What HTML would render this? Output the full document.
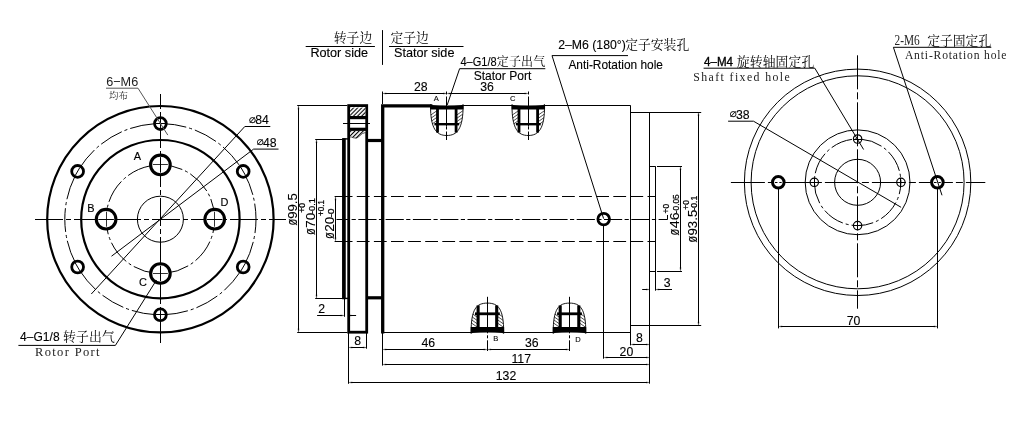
<!DOCTYPE html>
<html lang="zh-CN"><head><meta charset="utf-8"><title>Slip ring outline drawing</title>
<style>
html,body{margin:0;padding:0;background:#fff}
body{width:1026px;height:425px;overflow:hidden}
svg{display:block;will-change:transform}
.t{stroke:#000;stroke-width:1;fill:none}
.cl{stroke:#000;stroke-width:1;fill:none}
.k{stroke:#000;stroke-width:2.2;fill:none}
.ar{fill:#000;stroke:#000;stroke-width:0.3}
.h line{stroke:#222;stroke-width:0.8}
.k2{stroke:#000;stroke-width:3.1}
.k3{stroke:#000;stroke-width:2.8}
.k28{stroke:#000;stroke-width:2.8;fill:none}
text{fill:#000;stroke:none;font-family:"Liberation Sans",sans-serif;font-size:12px}
.s12{font-size:13px;stroke:#000;stroke-width:0.12px}
.s125{font-size:13.4px;stroke:#000;stroke-width:0.12px}
.v{font-size:11.5px;stroke:#000;stroke-width:0.1px}
.s12n{font-size:13.2px;fill:#222}
.s12b{font-size:12px;stroke:#000;stroke-width:0.35px}
.s11{font-size:11.6px;stroke:#000;stroke-width:0.15px}
.s7{font-size:8px;stroke:#000;stroke-width:0.1px}
.tol{font-size:8px;stroke:#000;stroke-width:0.25px}
.sym{font-size:12.5px;stroke:#000;stroke-width:0.15px}
.dia{font-family:"DejaVu Sans",sans-serif;font-size:8px;fill:#000;stroke:#000;stroke-width:0.3px}
.c13{font-family:"Liberation Serif","Noto Serif CJK SC",serif;font-size:12.8px;font-weight:400}
.c12{font-family:"Liberation Serif","Noto Serif CJK SC",serif;font-size:12px;font-weight:400}
.c13b{font-family:"Liberation Serif","Noto Serif CJK SC",serif;font-size:12.8px;font-weight:400}
.c9{font-family:"Liberation Serif","Noto Serif CJK SC",serif;font-size:9.5px;font-weight:300}
.m{font-family:"Liberation Serif",serif;font-size:12px;fill:#222}
</style></head>
<body>
<svg width="1026" height="425" viewBox="0 0 1026 425">
<rect width="1026" height="425" fill="#fff"/>
<defs>
<pattern id="hatch" width="2.9" height="2.9" patternUnits="userSpaceOnUse" patternTransform="rotate(-45)"><rect width="2.9" height="2.9" fill="#fff"/><line x1="0" y1="1.45" x2="2.9" y2="1.45" stroke="#000" stroke-width="1.1"/></pattern>
<clipPath id="pc"><path d="M-16.2 3 C-16 9 -15.6 14 -14.6 18.4 H-9.3 V3 Z M16.2 3 C16 9 15.6 14 14.6 18.4 H9.3 V3 Z"/></clipPath>
</defs>
<g id="left-view">
<circle class="k" cx="160.40" cy="219.20" r="113.20"/>
<circle class="k" cx="160.40" cy="219.20" r="79.20"/>
<circle class="cl" cx="160.40" cy="219.20" r="95.60" style="stroke-dasharray:24 3 3 3;stroke-dashoffset:10"/>
<circle class="cl" cx="160.40" cy="219.20" r="54.30" style="stroke-dasharray:24 3 3 3;stroke-dashoffset:10"/>
<circle class="t" cx="160.40" cy="219.20" r="23.00"/>
<line class="cl" x1="35.00" y1="219.50" x2="286.00" y2="219.50" style="stroke-dasharray:28 3 5 3;stroke-dashoffset:0"/>
<line class="cl" x1="160.50" y1="94.00" x2="160.50" y2="344.00" style="stroke-dasharray:28 3 5 3;stroke-dashoffset:13"/>
<circle class="k2" cx="160.40" cy="164.90" r="9.80" fill="#fff"/>
<line class="t" x1="152.90" y1="164.50" x2="167.90" y2="164.50" style="stroke-width:0.8"/>
<line class="t" x1="160.50" y1="166.90" x2="160.50" y2="162.90"/>
<line class="t" x1="160.50" y1="157.10" x2="160.50" y2="172.70"/>
<circle class="k2" cx="106.10" cy="219.20" r="9.80" fill="#fff"/>
<line class="t" x1="106.50" y1="226.70" x2="106.50" y2="211.70" style="stroke-width:0.8"/>
<line class="t" x1="108.10" y1="219.50" x2="104.10" y2="219.50"/>
<line class="t" x1="98.30" y1="219.50" x2="113.90" y2="219.50"/>
<circle class="k2" cx="160.40" cy="273.50" r="9.80" fill="#fff"/>
<line class="t" x1="167.90" y1="273.50" x2="152.90" y2="273.50" style="stroke-width:0.8"/>
<line class="t" x1="160.50" y1="271.50" x2="160.50" y2="275.50"/>
<line class="t" x1="160.50" y1="265.70" x2="160.50" y2="281.30"/>
<circle class="k2" cx="214.70" cy="219.20" r="9.80" fill="#fff"/>
<line class="t" x1="214.50" y1="211.70" x2="214.50" y2="226.70" style="stroke-width:0.8"/>
<line class="t" x1="212.70" y1="219.50" x2="216.70" y2="219.50"/>
<line class="t" x1="206.90" y1="219.50" x2="222.50" y2="219.50"/>
<circle class="k3" cx="160.40" cy="123.60" r="5.90" fill="#fff"/>
<line class="t" x1="155.80" y1="123.50" x2="165.00" y2="123.50"/>
<line class="t" x1="160.50" y1="119.00" x2="160.50" y2="128.20"/>
<circle class="k3" cx="243.19" cy="171.40" r="5.90" fill="#fff"/>
<line class="t" x1="240.89" y1="167.42" x2="245.49" y2="175.38"/>
<circle class="k3" cx="243.19" cy="267.00" r="5.90" fill="#fff"/>
<line class="t" x1="245.49" y1="263.02" x2="240.89" y2="270.98"/>
<circle class="k3" cx="160.40" cy="314.80" r="5.90" fill="#fff"/>
<line class="t" x1="165.00" y1="314.50" x2="155.80" y2="314.50"/>
<line class="t" x1="160.50" y1="310.20" x2="160.50" y2="319.40"/>
<circle class="k3" cx="77.61" cy="267.00" r="5.90" fill="#fff"/>
<line class="t" x1="79.91" y1="270.98" x2="75.31" y2="263.02"/>
<circle class="k3" cx="77.61" cy="171.40" r="5.90" fill="#fff"/>
<line class="t" x1="75.31" y1="175.38" x2="79.91" y2="167.42"/>
<polyline class="t" points="270.30,126.50 244.80,126.50 91.30,294.00"/>
<polyline class="t" points="278.50,149.10 253.60,149.10 111.50,256.20"/>
<polyline class="t" points="106.00,88.20 138.00,88.20 167.80,135.10" style="stroke:#555"/>
<polyline class="t" points="18.40,345.40 115.40,345.40 156.50,280.00"/>
<text class="s12n" x="106.20" y="86.30" style="font-size:13px" textLength="32.00" lengthAdjust="spacingAndGlyphs">6−M6</text>
<text class="c9" x="109.00" y="99.00">均布</text>
<text class="dia" x="248.90" y="122.60">∅</text>
<text class="s12" transform="translate(255.20,124.25) scale(0.945,1)">84</text>
<text class="dia" x="256.70" y="144.90">∅</text>
<text class="s12" transform="translate(263.00,146.55) scale(0.945,1)">48</text>
<text class="s11" transform="translate(133.80,160.25) scale(0.945,1)">A</text>
<text class="s11" transform="translate(87.30,211.75) scale(0.945,1)">B</text>
<text class="s11" transform="translate(139.00,286.25) scale(0.945,1)">C</text>
<text class="s11" transform="translate(220.40,206.05) scale(0.945,1)">D</text>
<text class="s125" x="20.10" y="340.60" style="font-size:13.2px" textLength="39.50" lengthAdjust="spacingAndGlyphs">4–G1/8</text>
<text class="c13" x="62.90" y="340.60" style="font-size:12.8px" textLength="52.00" lengthAdjust="spacing">转子出气</text>
<text class="m" x="35.00" y="355.60" style="font-size:12.5px" textLength="64.60" lengthAdjust="spacing">Rotor Port</text>
</g>
<g id="side-view">
<line class="t" x1="305.70" y1="46.50" x2="374.90" y2="46.50"/>
<line class="t" x1="389.00" y1="46.50" x2="463.50" y2="46.50"/>
<line class="t" x1="382.50" y1="30.10" x2="382.50" y2="64.90"/>
<text class="c13" x="333.80" y="41.60">转子边</text>
<text class="c13" x="390.50" y="41.60">定子边</text>
<text class="s125" transform="translate(310.40,56.95) scale(0.945,1)">Rotor side</text>
<text class="s125" transform="translate(394.00,57.05) scale(0.945,1)">Stator side</text>
<polyline class="t" points="545.30,68.70 459.60,68.70 447.20,105.00"/>
<text class="s12" x="460.40" y="66.00" style="font-size:12.8px" textLength="36.20" lengthAdjust="spacingAndGlyphs">4–G1/8</text>
<text class="c12" x="496.80" y="66.00" style="font-size:12px" textLength="48.40" lengthAdjust="spacing">定子出气</text>
<text class="s12" x="473.70" y="80.30" style="font-size:12.9px" textLength="57.60" lengthAdjust="spacingAndGlyphs">Stator Port</text>
<polyline class="t" points="628.00,55.60 552.00,55.60 603.60,218.60"/>
<text class="s12" transform="translate(558.20,48.75) scale(0.945,1)">2–M6 (180°)</text>
<text class="c13" x="625.20" y="49.00">定子安装孔</text>
<text class="s12" x="568.40" y="69.40" style="font-size:12.9px" textLength="94.60" lengthAdjust="spacingAndGlyphs">Anti-Rotation hole</text>
<path class="ar" d="M383.10 93.50 L386.30 92.95 L386.30 94.05 Z"/>
<path class="ar" d="M446.30 93.50 L443.10 94.05 L443.10 92.95 Z"/>
<line class="t" x1="385.20" y1="93.50" x2="444.20" y2="93.50"/>
<path class="ar" d="M447.30 93.50 L450.50 92.95 L450.50 94.05 Z"/>
<path class="ar" d="M527.80 93.50 L524.60 94.05 L524.60 92.95 Z"/>
<line class="t" x1="449.40" y1="93.50" x2="525.70" y2="93.50"/>
<line class="t" x1="382.50" y1="91.50" x2="382.50" y2="104.00"/>
<text class="s12" transform="translate(414.00,90.85) scale(0.945,1)">28</text>
<text class="s12" transform="translate(480.30,90.85) scale(0.945,1)">36</text>
<text class="s7" transform="translate(433.70,101.45) scale(0.945,1)">A</text>
<text class="s7" transform="translate(510.00,101.45) scale(0.945,1)">C</text>
<line class="t" x1="334.60" y1="196.50" x2="343.00" y2="196.50"/>
<line class="t" x1="339.70" y1="196.50" x2="655.50" y2="196.50" style="stroke-dasharray:12.8 4.3"/>
<line class="t" x1="334.60" y1="241.50" x2="343.00" y2="241.50"/>
<line class="t" x1="339.70" y1="241.50" x2="655.50" y2="241.50" style="stroke-dasharray:12.8 4.3"/>
<line class="t" x1="336.50" y1="219.50" x2="667.60" y2="219.50" style="stroke-dasharray:18.2 2.4 4.2 2.5;stroke-dashoffset:5.5"/>
<rect class="k28" x="348.7" y="105.6" width="18" height="226.6"/>
<rect x="350.1" y="107.6" width="15.2" height="8.6" fill="url(#hatch)"/>
<path d="M350.1 130.8 H365.3 V132.6 Q362 133 359.6 136 Q357 139.4 353.4 137.8 Q351.6 136.8 350.1 137 Z" fill="url(#hatch)"/>
<path class="t" d="M365.3 132.6 Q362 133 359.6 136 Q357 139.4 353.4 137.8 Q351.6 136.8 350.1 137" style="stroke-width:0.6"/>
<line class="k" x1="348.70" y1="117.60" x2="366.70" y2="117.60" style="stroke-width:3.2"/>
<line class="k" x1="348.70" y1="129.30" x2="366.70" y2="129.30" style="stroke-width:3.2"/>
<line class="t" x1="343.00" y1="123.50" x2="370.00" y2="123.50"/>
<line class="k" x1="343.90" y1="138.20" x2="343.90" y2="299.20" style="stroke-width:3.7"/>
<line class="k" x1="342.60" y1="138.90" x2="348.70" y2="138.90" style="stroke-width:1.4"/>
<line class="k" x1="342.60" y1="298.40" x2="348.70" y2="298.40" style="stroke-width:1.4"/>
<line class="k" x1="366.70" y1="140.50" x2="382.70" y2="140.50" style="stroke-width:3.2"/>
<line class="k" x1="366.70" y1="297.80" x2="382.70" y2="297.80" style="stroke-width:3.2"/>
<polyline class="k" points="382.70,333.60 382.70,105.90 432.40,105.90" style="stroke-width:3.3"/>
<line class="t" x1="432.00" y1="105.50" x2="630.70" y2="105.50"/>
<line class="t" x1="382.70" y1="332.50" x2="630.70" y2="332.50"/>
<line class="t" x1="630.50" y1="105.60" x2="630.50" y2="345.40"/>
<line class="t" x1="630.70" y1="112.50" x2="701.20" y2="112.50"/>
<line class="t" x1="630.70" y1="325.50" x2="701.20" y2="325.50"/>
<line class="t" x1="649.50" y1="112.10" x2="649.50" y2="383.70"/>
<line class="t" x1="649.70" y1="166.50" x2="655.50" y2="166.50"/>
<line class="t" x1="657.00" y1="166.50" x2="682.00" y2="166.50"/>
<line class="t" x1="649.70" y1="271.50" x2="655.50" y2="271.50"/>
<line class="t" x1="657.00" y1="271.50" x2="682.00" y2="271.50"/>
<line class="t" x1="655.50" y1="166.30" x2="655.50" y2="290.70"/>
<circle class="k3" cx="603.70" cy="219.10" r="5.80" fill="none"/>
<line class="t" x1="603.50" y1="225.00" x2="603.50" y2="358.70"/>
<g transform="translate(446.8,105.6) scale(1,1)">
<path d="M-16.3 0 C-16.3 23 -10.5 29.9 0 29.9 C10.5 29.9 16.3 23 16.3 0 Z" fill="#fff" stroke="none"/>
<g clip-path="url(#pc)" class="h">
<line x1="-17" y1="10.10" x2="-9" y2="4.50"/>
<line x1="-17" y1="13.40" x2="-9" y2="7.80"/>
<line x1="-17" y1="16.70" x2="-9" y2="11.10"/>
<line x1="-17" y1="20.00" x2="-9" y2="14.40"/>
<line x1="-17" y1="23.30" x2="-9" y2="17.70"/>
<line x1="-17" y1="26.60" x2="-9" y2="21.00"/>
<line x1="-17" y1="29.90" x2="-9" y2="24.30"/>
<line x1="9" y1="10.10" x2="17" y2="4.50"/>
<line x1="9" y1="13.40" x2="17" y2="7.80"/>
<line x1="9" y1="16.70" x2="17" y2="11.10"/>
<line x1="9" y1="20.00" x2="17" y2="14.40"/>
<line x1="9" y1="23.30" x2="17" y2="17.70"/>
<line x1="9" y1="26.60" x2="17" y2="21.00"/>
<line x1="9" y1="29.90" x2="17" y2="24.30"/>
</g>
<path class="t" d="M-16.3 0 C-16.3 23 -10.5 29.9 0 29.9 C10.5 29.9 16.3 23 16.3 0" style="stroke-width:0.9"/>
<path d="M-16.7 -1.6 L-15 -0.6 Q0 1.6 15 -0.6 L16.7 -1.6 V3.9 H-16.7 Z" fill="#000"/>
<line class="k" x1="-9.3" y1="3" x2="-9.3" y2="27" style="stroke-width:2.8"/>
<line class="k" x1="9.3" y1="3" x2="9.3" y2="27" style="stroke-width:2.8"/>
<line class="k" x1="-12.4" y1="18.6" x2="12.4" y2="18.6" style="stroke-width:2.4"/>
</g>
<g transform="translate(528.3,105.6) scale(1,1)">
<path d="M-16.3 0 C-16.3 23 -10.5 29.9 0 29.9 C10.5 29.9 16.3 23 16.3 0 Z" fill="#fff" stroke="none"/>
<g clip-path="url(#pc)" class="h">
<line x1="-17" y1="10.10" x2="-9" y2="4.50"/>
<line x1="-17" y1="13.40" x2="-9" y2="7.80"/>
<line x1="-17" y1="16.70" x2="-9" y2="11.10"/>
<line x1="-17" y1="20.00" x2="-9" y2="14.40"/>
<line x1="-17" y1="23.30" x2="-9" y2="17.70"/>
<line x1="-17" y1="26.60" x2="-9" y2="21.00"/>
<line x1="-17" y1="29.90" x2="-9" y2="24.30"/>
<line x1="9" y1="10.10" x2="17" y2="4.50"/>
<line x1="9" y1="13.40" x2="17" y2="7.80"/>
<line x1="9" y1="16.70" x2="17" y2="11.10"/>
<line x1="9" y1="20.00" x2="17" y2="14.40"/>
<line x1="9" y1="23.30" x2="17" y2="17.70"/>
<line x1="9" y1="26.60" x2="17" y2="21.00"/>
<line x1="9" y1="29.90" x2="17" y2="24.30"/>
</g>
<path class="t" d="M-16.3 0 C-16.3 23 -10.5 29.9 0 29.9 C10.5 29.9 16.3 23 16.3 0" style="stroke-width:0.9"/>
<path d="M-16.7 -1.6 L-15 -0.6 Q0 1.6 15 -0.6 L16.7 -1.6 V3.9 H-16.7 Z" fill="#000"/>
<line class="k" x1="-9.3" y1="3" x2="-9.3" y2="27" style="stroke-width:2.8"/>
<line class="k" x1="9.3" y1="3" x2="9.3" y2="27" style="stroke-width:2.8"/>
<line class="k" x1="-12.4" y1="18.6" x2="12.4" y2="18.6" style="stroke-width:2.4"/>
</g>
<g transform="translate(487.4,332.4) scale(1,-1)">
<path d="M-16.3 0 C-16.3 23.5 -11 29.3 0 29.3 C11 29.3 16.3 23.5 16.3 0 Z" fill="#fff" stroke="none"/>
<g clip-path="url(#pc)" class="h">
<line x1="-17" y1="10.10" x2="-9" y2="4.50"/>
<line x1="-17" y1="13.40" x2="-9" y2="7.80"/>
<line x1="-17" y1="16.70" x2="-9" y2="11.10"/>
<line x1="-17" y1="20.00" x2="-9" y2="14.40"/>
<line x1="-17" y1="23.30" x2="-9" y2="17.70"/>
<line x1="-17" y1="26.60" x2="-9" y2="21.00"/>
<line x1="-17" y1="29.90" x2="-9" y2="24.30"/>
<line x1="9" y1="10.10" x2="17" y2="4.50"/>
<line x1="9" y1="13.40" x2="17" y2="7.80"/>
<line x1="9" y1="16.70" x2="17" y2="11.10"/>
<line x1="9" y1="20.00" x2="17" y2="14.40"/>
<line x1="9" y1="23.30" x2="17" y2="17.70"/>
<line x1="9" y1="26.60" x2="17" y2="21.00"/>
<line x1="9" y1="29.90" x2="17" y2="24.30"/>
</g>
<path class="t" d="M-16.3 0 C-16.3 23.5 -11 29.3 0 29.3 C11 29.3 16.3 23.5 16.3 0" style="stroke-width:0.9"/>
<path d="M-16.7 -1.6 L-15 -0.6 Q0 1.6 15 -0.6 L16.7 -1.6 V5.4 H-16.7 Z" fill="#000"/>
<line class="k" x1="-9.3" y1="3" x2="-9.3" y2="27" style="stroke-width:3.1"/>
<line class="k" x1="9.3" y1="3" x2="9.3" y2="27" style="stroke-width:3.1"/>
<line class="k" x1="-12.4" y1="18.6" x2="12.4" y2="18.6" style="stroke-width:2.8"/>
</g>
<g transform="translate(569.5,332.4) scale(1,-1)">
<path d="M-16.3 0 C-16.3 23.5 -11 29.3 0 29.3 C11 29.3 16.3 23.5 16.3 0 Z" fill="#fff" stroke="none"/>
<g clip-path="url(#pc)" class="h">
<line x1="-17" y1="10.10" x2="-9" y2="4.50"/>
<line x1="-17" y1="13.40" x2="-9" y2="7.80"/>
<line x1="-17" y1="16.70" x2="-9" y2="11.10"/>
<line x1="-17" y1="20.00" x2="-9" y2="14.40"/>
<line x1="-17" y1="23.30" x2="-9" y2="17.70"/>
<line x1="-17" y1="26.60" x2="-9" y2="21.00"/>
<line x1="-17" y1="29.90" x2="-9" y2="24.30"/>
<line x1="9" y1="10.10" x2="17" y2="4.50"/>
<line x1="9" y1="13.40" x2="17" y2="7.80"/>
<line x1="9" y1="16.70" x2="17" y2="11.10"/>
<line x1="9" y1="20.00" x2="17" y2="14.40"/>
<line x1="9" y1="23.30" x2="17" y2="17.70"/>
<line x1="9" y1="26.60" x2="17" y2="21.00"/>
<line x1="9" y1="29.90" x2="17" y2="24.30"/>
</g>
<path class="t" d="M-16.3 0 C-16.3 23.5 -11 29.3 0 29.3 C11 29.3 16.3 23.5 16.3 0" style="stroke-width:0.9"/>
<path d="M-16.7 -1.6 L-15 -0.6 Q0 1.6 15 -0.6 L16.7 -1.6 V5.4 H-16.7 Z" fill="#000"/>
<line class="k" x1="-9.3" y1="3" x2="-9.3" y2="27" style="stroke-width:3.1"/>
<line class="k" x1="9.3" y1="3" x2="9.3" y2="27" style="stroke-width:3.1"/>
<line class="k" x1="-12.4" y1="18.6" x2="12.4" y2="18.6" style="stroke-width:2.8"/>
</g>
<line class="t" x1="446.50" y1="91.50" x2="446.50" y2="140.00" style="stroke-dasharray:3 2 30 0"/>
<line class="t" x1="528.50" y1="91.50" x2="528.50" y2="140.00" style="stroke-dasharray:3 2 30 0"/>
<line class="t" x1="487.50" y1="296.80" x2="487.50" y2="351.00" style="stroke-dasharray:36.5 2 3 2 30"/>
<line class="t" x1="569.50" y1="296.80" x2="569.50" y2="351.00" style="stroke-dasharray:36.5 2 3 2 30"/>
<line class="t" x1="297.20" y1="105.50" x2="347.40" y2="105.50"/>
<line class="t" x1="297.20" y1="332.50" x2="347.40" y2="332.50"/>
<path class="ar" d="M298.50 106.10 L299.05 109.30 L297.95 109.30 Z"/>
<path class="ar" d="M298.50 331.90 L297.95 328.70 L299.05 328.70 Z"/>
<line class="t" x1="298.50" y1="108.20" x2="298.50" y2="329.80"/>
<line class="t" x1="315.20" y1="139.50" x2="342.60" y2="139.50"/>
<line class="t" x1="315.20" y1="298.50" x2="342.60" y2="298.50"/>
<path class="ar" d="M316.50 139.80 L317.05 143.00 L315.95 143.00 Z"/>
<path class="ar" d="M316.50 298.00 L315.95 294.80 L317.05 294.80 Z"/>
<line class="t" x1="316.50" y1="141.90" x2="316.50" y2="295.90"/>
<path class="ar" d="M335.50 197.00 L336.05 200.20 L334.95 200.20 Z"/>
<path class="ar" d="M335.50 240.80 L334.95 237.60 L336.05 237.60 Z"/>
<line class="t" x1="335.50" y1="199.10" x2="335.50" y2="238.70"/>
<text class="sym" transform="translate(296.90,225.40) rotate(-90)" style="font-size:14px" textLength="6.80" lengthAdjust="spacingAndGlyphs">ø</text>
<text class="v" transform="translate(296.90,218.70) rotate(-90)" style="font-size:13.1px" textLength="25.40" lengthAdjust="spacingAndGlyphs">99.5</text>
<text class="sym" transform="translate(315.00,235.10) rotate(-90)" style="font-size:14px" textLength="6.80" lengthAdjust="spacingAndGlyphs">ø</text>
<text class="v" transform="translate(315.00,228.00) rotate(-90)" style="font-size:13.1px" textLength="15.30" lengthAdjust="spacingAndGlyphs">70</text>
<text class="tol" transform="translate(315.00,214.00) rotate(-90)" style="font-size:8.6px" textLength="16.00" lengthAdjust="spacingAndGlyphs">-0.1</text>
<text class="tol" transform="translate(305.30,212.80) rotate(-90)" style="font-size:8.6px" textLength="9.80" lengthAdjust="spacingAndGlyphs">+0</text>
<text class="sym" transform="translate(333.80,239.00) rotate(-90)" style="font-size:14px" textLength="6.80" lengthAdjust="spacingAndGlyphs">ø</text>
<text class="v" transform="translate(333.80,231.80) rotate(-90)" style="font-size:13.1px" textLength="15.20" lengthAdjust="spacingAndGlyphs">20</text>
<text class="tol" transform="translate(333.80,217.60) rotate(-90)" style="font-size:8.6px" textLength="9.20" lengthAdjust="spacingAndGlyphs">-0</text>
<text class="tol" transform="translate(323.50,216.00) rotate(-90)" style="font-size:8.6px" textLength="16.00" lengthAdjust="spacingAndGlyphs">+0.1</text>
<path class="ar" d="M343.80 315.50 L340.60 316.05 L340.60 314.95 Z"/>
<line class="t" x1="317.10" y1="315.50" x2="341.70" y2="315.50"/>
<path class="ar" d="M348.10 315.50 L351.30 314.95 L351.30 316.05 Z"/>
<line class="t" x1="350.20" y1="315.50" x2="356.10" y2="315.50"/>
<line class="t" x1="344.50" y1="299.00" x2="344.50" y2="316.80"/>
<text class="s12" transform="translate(318.30,313.45) scale(0.945,1)">2</text>
<line class="t" x1="348.50" y1="333.00" x2="348.50" y2="383.80"/>
<line class="t" x1="366.50" y1="333.00" x2="366.50" y2="348.70"/>
<path class="ar" d="M349.10 347.50 L352.30 346.95 L352.30 348.05 Z"/>
<path class="ar" d="M366.10 347.50 L362.90 348.05 L362.90 346.95 Z"/>
<line class="t" x1="351.20" y1="347.50" x2="364.00" y2="347.50"/>
<text class="s12" transform="translate(354.20,345.35) scale(0.945,1)">8</text>
<line class="t" x1="382.50" y1="333.00" x2="382.50" y2="365.60"/>
<path class="ar" d="M383.10 349.50 L386.30 348.95 L386.30 350.05 Z"/>
<path class="ar" d="M486.90 349.50 L483.70 350.05 L483.70 348.95 Z"/>
<line class="t" x1="385.20" y1="349.50" x2="484.80" y2="349.50"/>
<path class="ar" d="M487.90 349.50 L491.10 348.95 L491.10 350.05 Z"/>
<path class="ar" d="M569.00 349.50 L565.80 350.05 L565.80 348.95 Z"/>
<line class="t" x1="490.00" y1="349.50" x2="566.90" y2="349.50"/>
<text class="s12" transform="translate(421.50,347.25) scale(0.945,1)">46</text>
<text class="s12" transform="translate(524.90,347.25) scale(0.945,1)">36</text>
<text class="s7" transform="translate(493.30,341.45) scale(0.945,1)">B</text>
<text class="s7" transform="translate(575.30,341.65) scale(0.945,1)">D</text>
<path class="ar" d="M383.10 364.50 L386.30 363.95 L386.30 365.05 Z"/>
<path class="ar" d="M649.20 364.50 L646.00 365.05 L646.00 363.95 Z"/>
<line class="t" x1="385.20" y1="364.50" x2="647.10" y2="364.50"/>
<text class="s12" transform="translate(511.40,362.85) scale(0.945,1)">117</text>
<path class="ar" d="M349.10 382.50 L352.30 381.95 L352.30 383.05 Z"/>
<path class="ar" d="M649.20 382.50 L646.00 383.05 L646.00 381.95 Z"/>
<line class="t" x1="351.20" y1="382.50" x2="647.10" y2="382.50"/>
<text class="s12" transform="translate(495.80,380.45) scale(0.945,1)">132</text>
<path class="ar" d="M604.20 357.50 L607.40 356.95 L607.40 358.05 Z"/>
<path class="ar" d="M649.20 357.50 L646.00 358.05 L646.00 356.95 Z"/>
<line class="t" x1="606.30" y1="357.50" x2="647.10" y2="357.50"/>
<text class="s12" transform="translate(619.60,355.65) scale(0.945,1)">20</text>
<path class="ar" d="M631.20 344.50 L634.40 343.95 L634.40 345.05 Z"/>
<path class="ar" d="M649.20 344.50 L646.00 345.05 L646.00 343.95 Z"/>
<line class="t" x1="633.30" y1="344.50" x2="647.10" y2="344.50"/>
<text class="s12" transform="translate(636.00,342.35) scale(0.945,1)">8</text>
<path class="ar" d="M649.20 289.50 L646.00 290.05 L646.00 288.95 Z"/>
<line class="t" x1="642.20" y1="289.50" x2="647.10" y2="289.50"/>
<path class="ar" d="M656.00 289.50 L659.20 288.95 L659.20 290.05 Z"/>
<line class="t" x1="658.10" y1="289.50" x2="672.00" y2="289.50"/>
<text class="s12" transform="translate(663.80,286.55) scale(0.945,1)">3</text>
<path class="ar" d="M680.50 166.80 L681.05 170.00 L679.95 170.00 Z"/>
<path class="ar" d="M680.50 270.70 L679.95 267.50 L681.05 267.50 Z"/>
<line class="t" x1="680.50" y1="168.90" x2="680.50" y2="268.60"/>
<path class="ar" d="M698.50 112.60 L699.05 115.80 L697.95 115.80 Z"/>
<path class="ar" d="M698.50 325.10 L697.95 321.90 L699.05 321.90 Z"/>
<line class="t" x1="698.50" y1="114.70" x2="698.50" y2="323.00"/>
<text class="sym" transform="translate(678.70,235.40) rotate(-90)" style="font-size:14px" textLength="6.80" lengthAdjust="spacingAndGlyphs">ø</text>
<text class="v" transform="translate(678.70,228.20) rotate(-90)" style="font-size:13.1px" textLength="15.90" lengthAdjust="spacingAndGlyphs">46</text>
<text class="tol" transform="translate(678.70,213.20) rotate(-90)" style="font-size:8.6px" textLength="18.90" lengthAdjust="spacingAndGlyphs">-0.05</text>
<text class="tol" transform="translate(668.50,213.50) rotate(-90)" style="font-size:8.6px" textLength="9.60" lengthAdjust="spacingAndGlyphs">+0</text>
<text class="sym" transform="translate(696.70,242.40) rotate(-90)" style="font-size:14px" textLength="6.60" lengthAdjust="spacingAndGlyphs">ø</text>
<text class="v" transform="translate(696.70,235.60) rotate(-90)" style="font-size:13.1px" textLength="25.90" lengthAdjust="spacingAndGlyphs">93.5</text>
<text class="tol" transform="translate(696.70,210.60) rotate(-90)" style="font-size:8.6px" textLength="14.80" lengthAdjust="spacingAndGlyphs">-0.1</text>
<text class="tol" transform="translate(689.00,209.70) rotate(-90)" style="font-size:8.6px" textLength="9.60" lengthAdjust="spacingAndGlyphs">+0</text>
<line class="t" x1="667.50" y1="215.00" x2="667.50" y2="219.50"/>
</g>
<g id="right-view">
<circle class="t" cx="857.60" cy="182.30" r="113.20"/>
<circle class="t" cx="857.60" cy="182.30" r="106.50"/>
<circle class="t" cx="857.60" cy="182.30" r="52.40"/>
<circle class="t" cx="857.60" cy="182.30" r="23.00"/>
<circle class="t" cx="857.60" cy="182.30" r="43.30" style="stroke-dasharray:22 3 3 3;stroke-dashoffset:10"/>
<line class="t" x1="730.90" y1="182.50" x2="985.30" y2="182.50" style="stroke-dasharray:34 3 7 3;stroke-dashoffset:0"/>
<line class="t" x1="857.50" y1="55.30" x2="857.50" y2="308.70" style="stroke-dasharray:34 3 7 3;stroke-dashoffset:0"/>
<circle class="t" cx="857.60" cy="139.00" r="4.20" fill="#fff" style="stroke-width:1.15"/>
<line class="t" x1="853.10" y1="139.50" x2="862.10" y2="139.50"/>
<line class="t" x1="857.50" y1="134.50" x2="857.50" y2="143.50"/>
<circle class="t" cx="857.60" cy="225.60" r="4.20" fill="#fff" style="stroke-width:1.15"/>
<line class="t" x1="853.10" y1="225.50" x2="862.10" y2="225.50"/>
<line class="t" x1="857.50" y1="221.10" x2="857.50" y2="230.10"/>
<circle class="t" cx="814.30" cy="182.30" r="4.20" fill="#fff" style="stroke-width:1.15"/>
<line class="t" x1="809.80" y1="182.50" x2="818.80" y2="182.50"/>
<line class="t" x1="814.50" y1="177.80" x2="814.50" y2="186.80"/>
<circle class="t" cx="900.90" cy="182.30" r="4.20" fill="#fff" style="stroke-width:1.15"/>
<line class="t" x1="896.40" y1="182.50" x2="905.40" y2="182.50"/>
<line class="t" x1="900.50" y1="177.80" x2="900.50" y2="186.80"/>
<circle class="k3" cx="778.30" cy="182.30" r="5.80" fill="#fff" style="stroke-width:3"/>
<line class="t" x1="774.90" y1="182.50" x2="777.50" y2="182.50"/>
<line class="t" x1="779.30" y1="182.50" x2="781.70" y2="182.50"/>
<circle class="k3" cx="937.40" cy="182.30" r="5.80" fill="#fff" style="stroke-width:3"/>
<line class="t" x1="934.00" y1="182.50" x2="936.60" y2="182.50"/>
<line class="t" x1="938.40" y1="182.50" x2="940.80" y2="182.50"/>
<line class="t" x1="778.50" y1="189.00" x2="778.50" y2="328.40"/>
<line class="t" x1="937.50" y1="189.00" x2="937.50" y2="328.40"/>
<path class="ar" d="M779.00 326.50 L782.20 325.95 L782.20 327.05 Z"/>
<path class="ar" d="M937.00 326.50 L933.80 327.05 L933.80 325.95 Z"/>
<line class="t" x1="781.10" y1="326.50" x2="934.90" y2="326.50"/>
<text class="s12" transform="translate(846.70,324.85) scale(0.945,1)">70</text>
<polyline class="t" points="728.10,121.20 753.50,121.20 901.10,207.30"/>
<text class="dia" x="729.70" y="117.10">∅</text>
<text class="s12" transform="translate(736.00,118.75) scale(0.945,1)">38</text>
<polyline class="t" points="703.60,68.20 814.80,68.20 863.60,149.50"/>
<text class="s12b" x="704.00" y="65.60" style="font-size:12.8px" textLength="29.00" lengthAdjust="spacingAndGlyphs">4–M4</text>
<text class="c13b" x="736.80" y="65.80" style="font-size:12.8px" textLength="77.40" lengthAdjust="spacing">旋转轴固定孔</text>
<text class="m" x="693.20" y="80.60" style="font-size:11.8px" textLength="96.60" lengthAdjust="spacing">Shaft fixed hole</text>
<polyline class="t" points="991.30,47.30 893.40,47.30 942.00,195.30"/>
<text class="m" x="894.60" y="45.30" style="font-size:14.2px" textLength="25.20" lengthAdjust="spacingAndGlyphs">2-M6</text>
<text class="c13" x="927.20" y="44.60">定子固定孔</text>
<text class="m" x="904.90" y="58.80" style="font-size:11.6px" textLength="101.60" lengthAdjust="spacing">Anti-Rotation hole</text>
</g>
</svg>
</body></html>
